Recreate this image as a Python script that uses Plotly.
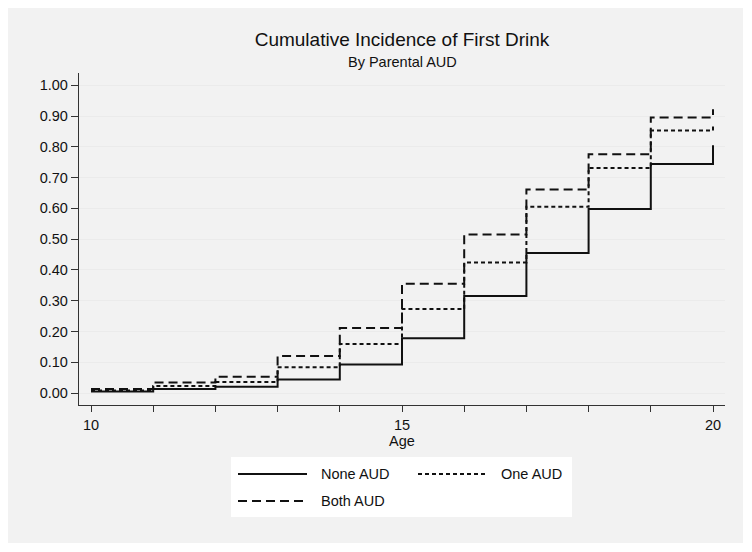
import plotly.graph_objects as go

# ---- data ----
ages = [10, 11, 12, 13, 14, 15, 16, 17, 18, 19, 20]
none_aud = [0.005, 0.013, 0.020, 0.044, 0.093, 0.178, 0.315, 0.455, 0.598, 0.744, 0.805]
one_aud = [0.008, 0.023, 0.036, 0.084, 0.159, 0.273, 0.424, 0.605, 0.731, 0.853, 0.875]
both_aud = [0.013, 0.034, 0.053, 0.120, 0.211, 0.355, 0.515, 0.661, 0.776, 0.895, 0.922]
series_names = ["None AUD", "One AUD", "Both AUD"]
y_ticks = [0.0, 0.1, 0.2, 0.3, 0.4, 0.5, 0.6, 0.7, 0.8, 0.9, 1.0]
x_ticks = [10, 11, 12, 13, 14, 15, 16, 17, 18, 19, 20]
x_labels = ["10", "", "", "", "", "15", "", "", "", "", "20"]
title_text = "Cumulative Incidence of First Drink"
subtitle_text = "By Parental AUD"
x_title = "Age"

# ---- layout geometry ----
# The page body adds an 8px margin, so the figure is drawn 8px smaller and
# every screen position below is shifted by that offset.
OFF = 8
W, H = 752 - OFF, 552 - OFF
PLOT_L, PLOT_R, PLOT_T, PLOT_B = 79 - OFF, 725 - OFF, 73 - OFF, 405 - OFF
M_L, M_R, M_T, M_B = PLOT_L, W - PLOT_R, PLOT_T, H - PLOT_B
PW, PH = PLOT_R - PLOT_L, PLOT_B - PLOT_T


def xp(sx):
    return (sx - OFF - PLOT_L) / PW


def yp(sy):
    return (PLOT_B - (sy - OFF)) / PH


FONT = "Liberation Sans, Arial, sans-serif"
INK = "#111111"
dashes = ["solid", "4px,3px", "9px,5px"]
values = [none_aud, one_aud, both_aud]

fig = go.Figure()
for name, vals, dash in zip(series_names, values, dashes):
    fig.add_trace(go.Scatter(
        x=ages, y=vals, name=name, mode="lines",
        line=dict(color=INK, width=2, dash=dash, shape="hv"),
        showlegend=False,
    ))

shapes = [
    # outer gray panel
    dict(type="rect", xref="paper", yref="paper", layer="below",
         x0=xp(8), x1=xp(743), y0=yp(543), y1=yp(7),
         fillcolor="#f2f2f2", line=dict(width=0)),
    # legend box
    dict(type="rect", xref="paper", yref="paper", layer="above",
         x0=xp(231), x1=xp(572), y0=yp(517), y1=yp(457),
         fillcolor="white", line=dict(width=0)),
]

# manual legend (sample lines + labels)
legend_pos = [(238, 474), (418, 474), (238, 501)]
annotations = []
for (lx, ly), name, dash in zip(legend_pos, series_names, dashes):
    shapes.append(dict(type="line", xref="paper", yref="paper",
                       x0=xp(lx), x1=xp(lx + 69), y0=yp(ly), y1=yp(ly),
                       line=dict(color=INK, width=2, dash=dash)))
    annotations.append(dict(xref="paper", yref="paper", x=xp(lx + 81), y=yp(ly),
                            xanchor="left", yanchor="middle", showarrow=False,
                            text=name, font=dict(family=FONT, size=14.5, color=INK)))

annotations.append(dict(xref="paper", yref="paper", x=0.5, y=yp(62),
                        xanchor="center", yanchor="middle", showarrow=False,
                        text=subtitle_text, font=dict(family=FONT, size=14.5, color=INK)))

fig.update_layout(
    width=W, height=H,
    margin=dict(l=M_L, r=M_R, t=M_T, b=M_B, pad=0),
    paper_bgcolor="white", plot_bgcolor="white",
    title=dict(text=title_text, x=0.5, xref="paper", xanchor="center",
               y=1 - (39 - OFF) / H, yref="container", yanchor="middle",
               font=dict(family=FONT, size=19, color=INK)),
    font=dict(family=FONT, size=14.5, color=INK),
    shapes=shapes, annotations=annotations,
    showlegend=False,
)

fig.update_xaxes(
    range=[9.807, 20.193], tickmode="array", tickvals=x_ticks, ticktext=x_labels,
    ticks="outside", ticklen=6, tickwidth=1.3, tickcolor="#333333",
    showline=True, linecolor="#333333", linewidth=1.3,
    showgrid=False, zeroline=False,
    title=dict(text=x_title, standoff=0, font=dict(family=FONT, size=14.5, color=INK)),
    tickfont=dict(family=FONT, size=14.5, color=INK),
)
fig.update_yaxes(
    range=[-0.039, 1.04], tickmode="array", tickvals=y_ticks,
    ticktext=[f"{v:.2f}" for v in y_ticks],
    ticks="outside", ticklen=7, tickwidth=1.3, tickcolor="#333333",
    showline=True, linecolor="#333333", linewidth=1.3,
    showgrid=True, gridcolor="#ebebeb", gridwidth=1.3, zeroline=False,
    tickfont=dict(family=FONT, size=14.5, color=INK),
)

fig.write_html("out.html")
